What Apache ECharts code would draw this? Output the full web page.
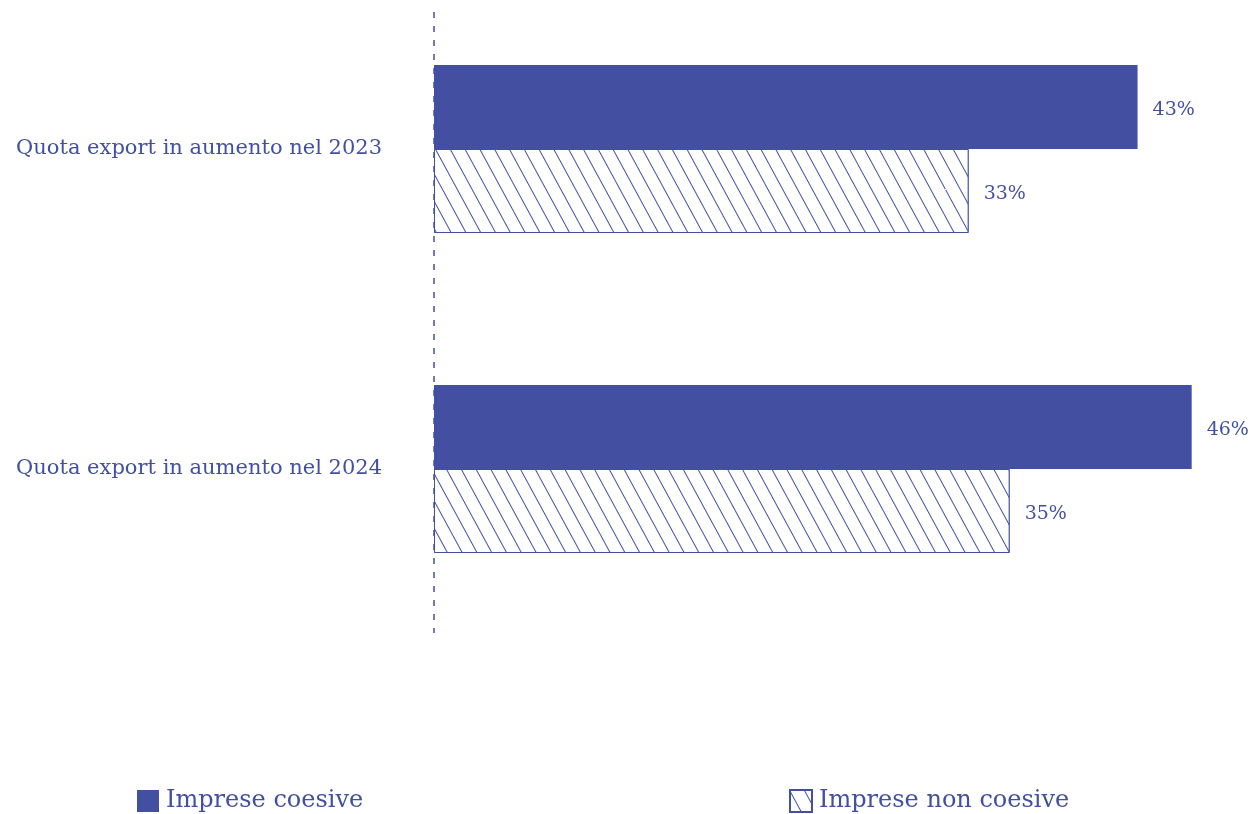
<!DOCTYPE html>
<html>
<head>
<meta charset="utf-8">
<script src="https://cdn.jsdelivr.net/npm/echarts@6/dist/echarts.min.js"></script>
<style>
html,body{margin:0;padding:0;background:#fff;}
#chart{width:1254px;height:814px;}
</style>
</head>
<body>
<div id="chart"></div>
<script>
const categories = ['Quota export in aumento nel 2023', 'Quota export in aumento nel 2024'];
const coesive = [42.9, 46.2];
const nonCoesive = [32.6, 35.1];
const seriesNames = ['Imprese coesive', 'Imprese non coesive'];

const BLUE = '#4350A1';
const FONT = '"DejaVu Serif", serif';

const chart = echarts.init(document.getElementById('chart'), null, {renderer: 'canvas'});
const pctLabel = {
  show: true, position: 'right', distance: 15, offset: [0, 3],
  color: BLUE, fontFamily: FONT, fontSize: 19,
  formatter: p => Math.round(p.value) + '%'
};
const option = {
  backgroundColor: '#fff',
  animation: false,
  grid: {left: 434, right: 0, top: 149, bottom: 345, containLabel: false},
  xAxis: {
    type: 'value', min: 0, max: 50,
    show: false
  },
  yAxis: {
    type: 'category', data: categories, inverse: true, boundaryGap: false,
    axisLine: {show: false}, axisTick: {show: false}, splitLine: {show: false},
    axisLabel: {color: BLUE, fontFamily: FONT, fontSize: 21, margin: 52}
  },
  legend: [
    {data: [{name: seriesNames[0], icon: 'rect'}], left: 137, top: 789, padding: 0, itemWidth: 22, itemHeight: 22, itemGap: 0,
     textStyle: {color: BLUE, fontFamily: FONT, fontSize: 24, padding: [0,0,0,2]}},
    {data: [{name: seriesNames[1], icon: 'rect'}], left: 789, top: 789, padding: 0, itemWidth: 22, itemHeight: 22, itemGap: 0,
     textStyle: {color: BLUE, fontFamily: FONT, fontSize: 24, padding: [0,0,0,2]}}
  ],
  series: [
    {
      name: seriesNames[0], type: 'bar', data: coesive, clip: false,
      barWidth: 84, barGap: '0%',
      itemStyle: {color: BLUE},
      label: pctLabel
    },
    {
      name: seriesNames[1], type: 'bar', data: nonCoesive, clip: false,
      barWidth: 84, barGap: '0%',
      itemStyle: {
        color: '#ffffff', borderColor: BLUE, borderWidth: 1,
        decal: {
          symbol: 'rect', symbolSize: 1, color: BLUE, backgroundColor: '#ffffff',
          dashArrayX: [1, 0], dashArrayY: [1, 12],
          rotation: 61.5 * Math.PI / 180
        }
      },
      label: pctLabel
    }
  ]
};
chart.setOption(option);
const x0 = chart.convertToPixel({xAxisIndex: 0}, 0);
chart.setOption({
  graphic: [{
    type: 'line', silent: true, z: 100,
    shape: {x1: x0, y1: 12, x2: x0, y2: 633},
    style: {stroke: BLUE, lineWidth: 1.5, lineDash: [6, 8]}
  }]
});
</script>
</body>
</html>
